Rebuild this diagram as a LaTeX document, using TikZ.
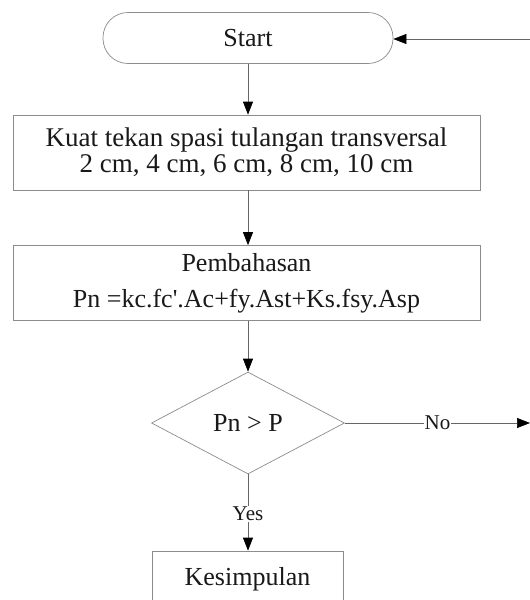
\documentclass[tikz,border=0pt]{standalone}
\usepackage{fontspec}
\setmainfont{Liberation Serif}[Ligatures=TeXOff]
\usetikzlibrary{shapes.geometric,arrows.meta}
\begin{document}
\begin{tikzpicture}[x=1pt,y=-1pt,
  boxline/.style={draw=black!45, line width=0.7pt},
  procbox/.style={boxline, rectangle, inner sep=0pt, align=center, text=black!90},
  decbox/.style={boxline, diamond, inner sep=0pt, minimum width=193pt, minimum height=102pt, shape aspect=1.9, text=black!90},
  conn/.style={draw=black!60, line width=0.7pt, -{Triangle[width=10pt,length=13pt,black]}},
  lbl/.style={fill=white, inner sep=1pt, text=black!90, font=\fontsize{21}{24}\selectfont}]
\clip (0,0) rectangle (530,600);
\fill[white] (0,0) rectangle (530,600);
\node[procbox, rounded corners=25pt, minimum width=290pt, minimum height=51pt,
      font=\fontsize{26}{28}\selectfont] (start) at (248,38) {Start};
\node[procbox, minimum width=467pt, minimum height=75pt,
      font=\fontsize{27}{26}\selectfont] (kuat) at (246.5,152.5)
      {Kuat tekan spasi tulangan transversal\\2 cm, 4 cm, 6 cm, 8 cm, 10 cm};
\node[procbox, minimum width=467pt, minimum height=75pt,
      font=\fontsize{26}{36}\selectfont] (bahas) at (246.5,283)
      {Pembahasan\\Pn =kc.fc'.Ac+fy.Ast+Ks.fsy.Asp};
\node[decbox, font=\fontsize{26}{28}\selectfont] (dec) at (248,423) {Pn > P};
\node[procbox, minimum width=191pt, minimum height=56pt,
      font=\fontsize{26}{28}\selectfont] (kesim) at (247.5,579) {Kesimpulan};
\coordinate (noend) at (530,423);
\coordinate (retin) at (530,39);
\draw[conn] (start.south) -- (start.south |- kuat.north);
\draw[conn] (kuat.south -| start.south) -- (start.south |- bahas.north);
\draw[conn] (bahas.south -| start.south) -- (dec.north);
\draw[conn] (dec.east) -- node[lbl, pos=0.5] (nolbl) {No} (noend);
\draw[conn] (dec.south) -- node[lbl, pos=0.52] (yeslbl) {Yes} (dec.south |- kesim.north);
\draw[conn] (retin) -- (start.east |- retin);
\end{tikzpicture}
\end{document}
